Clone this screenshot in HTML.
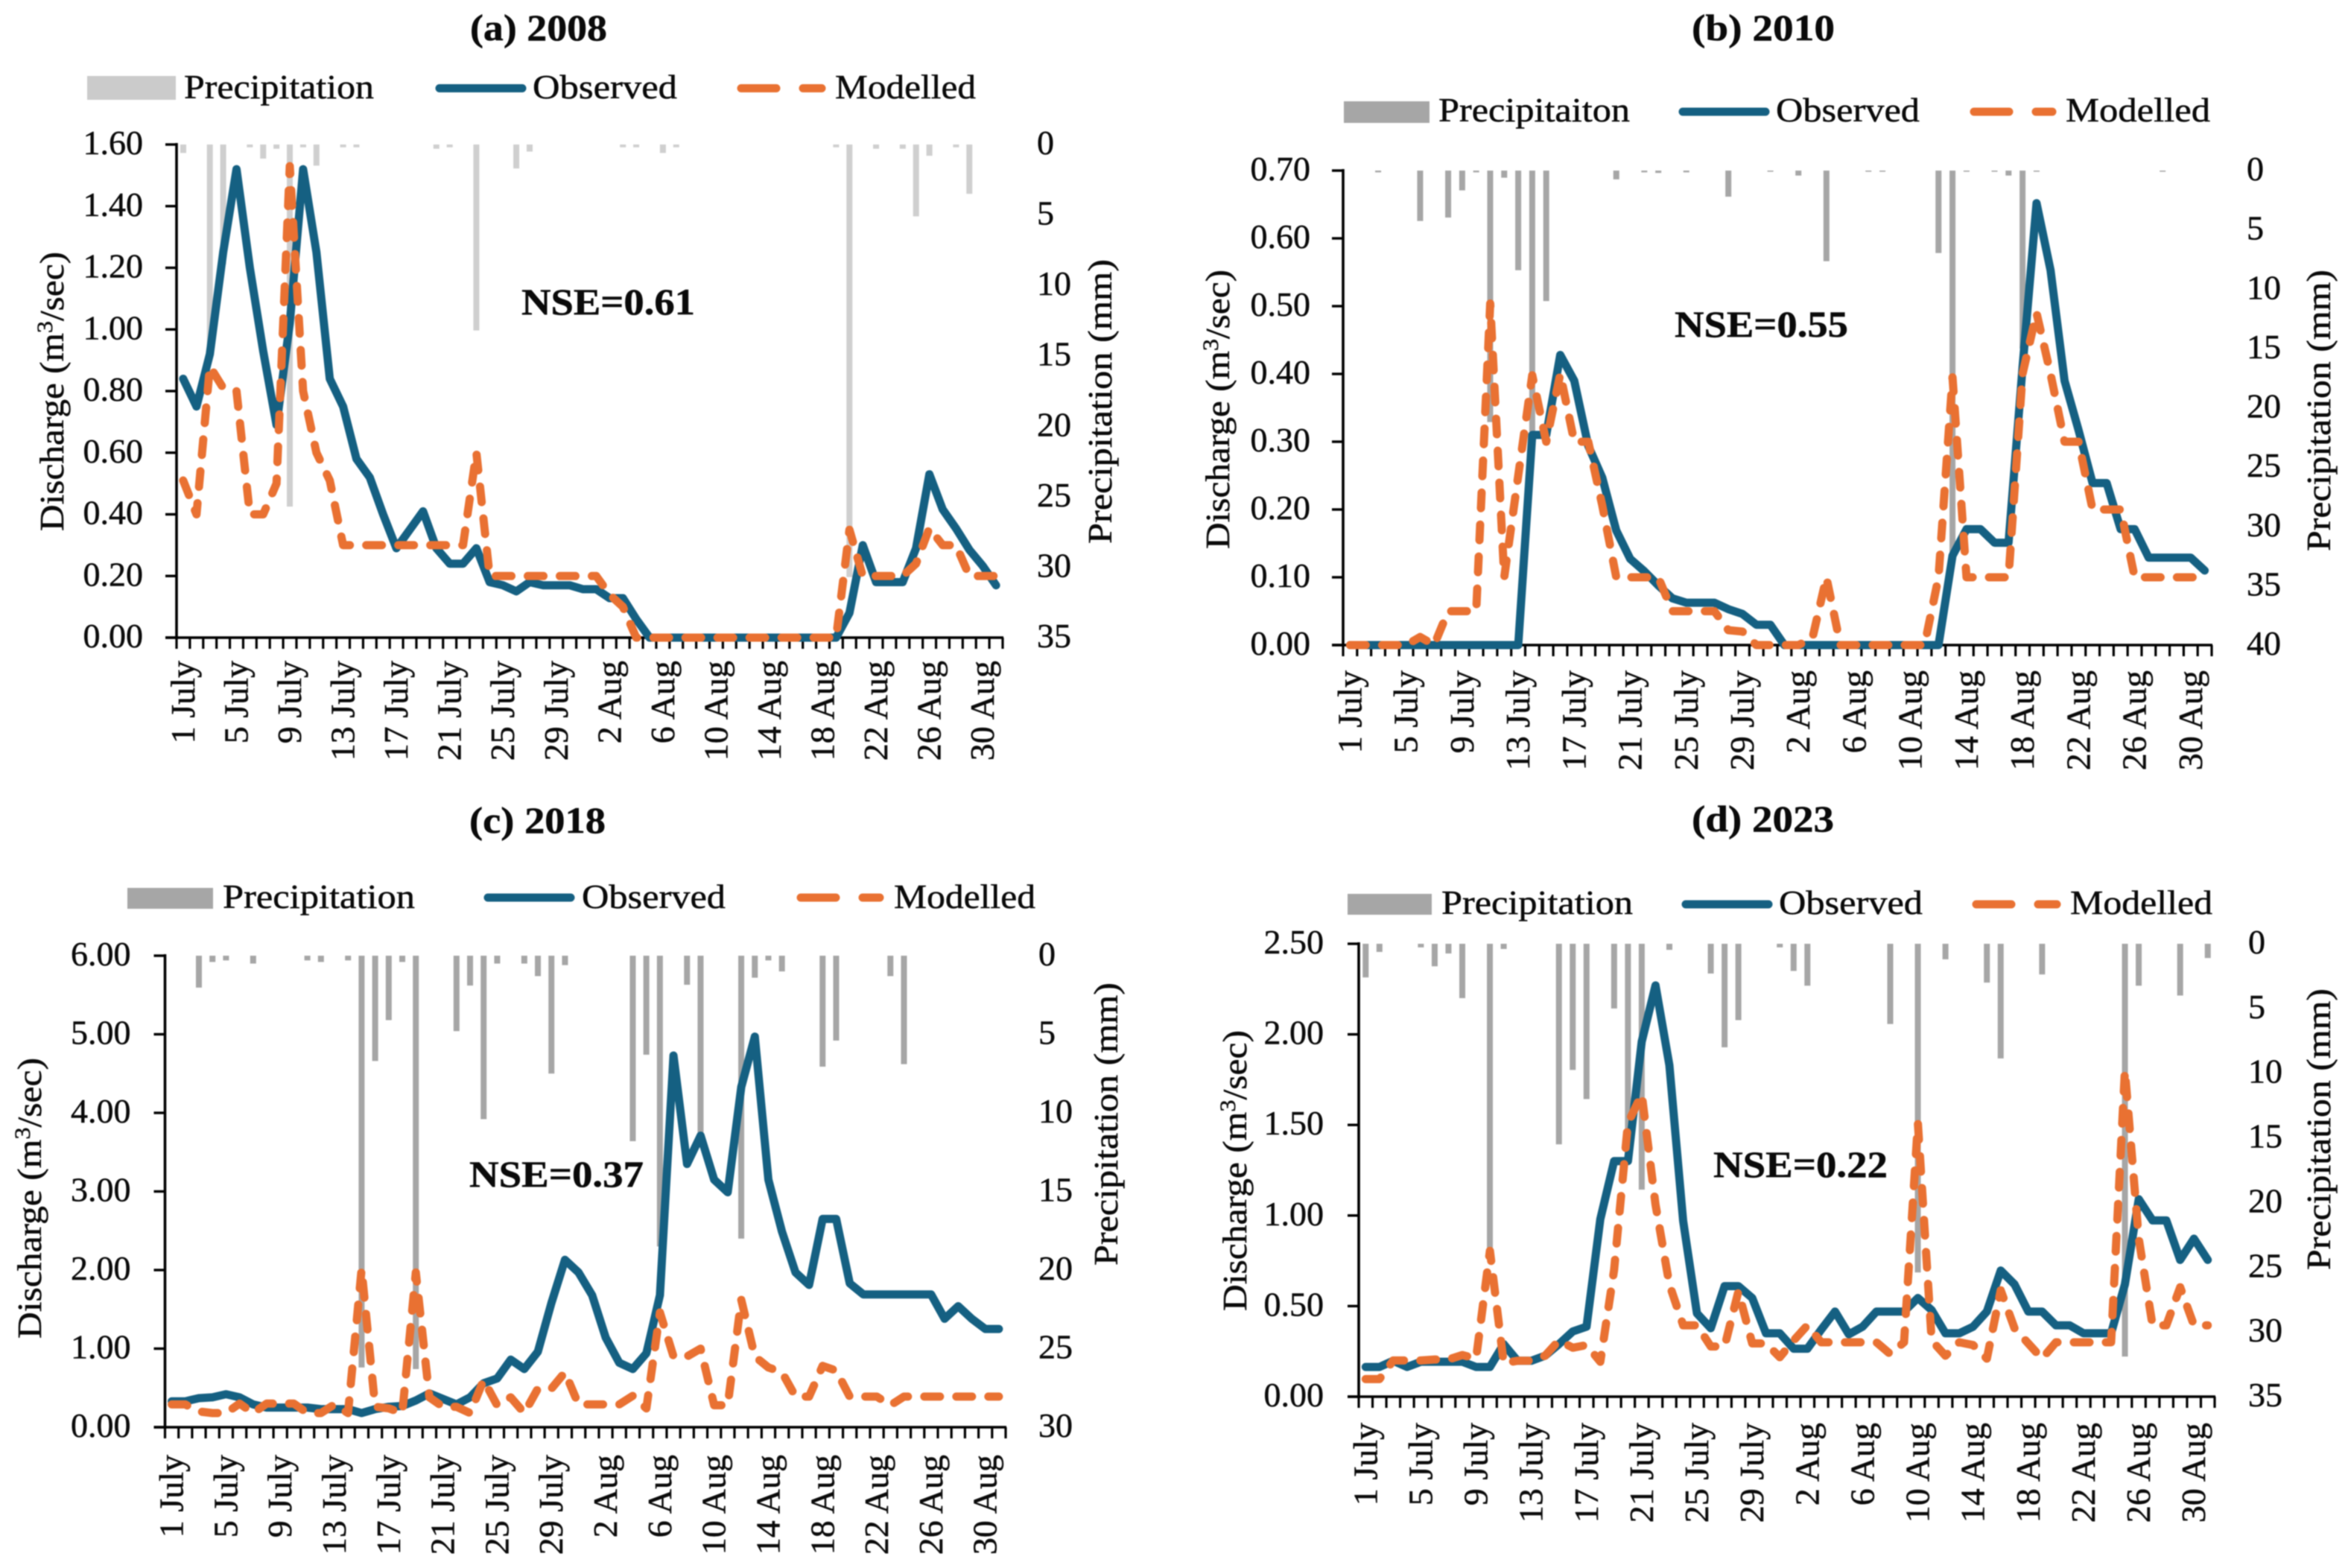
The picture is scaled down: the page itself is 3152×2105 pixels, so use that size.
<!DOCTYPE html>
<html lang="en">
<head>
<meta charset="utf-8">
<title>Observed and modelled discharge with precipitation</title>
<style>
html,body{margin:0;padding:0;background:#fff;width:3152px;height:2105px;overflow:hidden}
svg{display:block;filter:blur(0.7px)}
text{font-family:"Liberation Serif",serif;fill:#0a0a0a;stroke:#0a0a0a;stroke-width:.5px}
.t{font-size:50px;font-weight:bold}
.n{font-size:50px;font-weight:bold}
.l{font-size:46px}
</style>
</head>
<body>
<svg id="chart" xmlns="http://www.w3.org/2000/svg" width="3152" height="2105" viewBox="0 0 3152 2105">
  <rect width="3152" height="2105" fill="#fff"/>

  <g id="panel-a">
    <text class="t" x="631" y="54" textLength="184" lengthAdjust="spacingAndGlyphs">(a) 2008</text>
    <rect x="117" y="102" width="119" height="32" fill="#cbcbcb"/>
    <text class="l" x="247" y="132" textLength="255" lengthAdjust="spacingAndGlyphs">Precipitation</text>
    <line x1="590" y1="118.5" x2="701" y2="118.5" stroke="#156082" stroke-width="11" stroke-linecap="round"/>
    <text class="l" x="715" y="132" textLength="194" lengthAdjust="spacingAndGlyphs">Observed</text>
    <line x1="995" y1="118.5" x2="1103" y2="118.5" stroke="#E97132" stroke-width="11" stroke-linecap="round" stroke-dasharray="47 36"/>
    <text class="l" x="1121" y="132" textLength="189" lengthAdjust="spacingAndGlyphs">Modelled</text>
    <text class="n" x="700" y="422" textLength="233" lengthAdjust="spacingAndGlyphs">NSE=0.61</text>
    <text class="l" transform="translate(85 713) rotate(-90)" x="0" y="0" textLength="375" lengthAdjust="spacingAndGlyphs">Discharge (m<tspan dy="-15" font-size="30">3</tspan><tspan dy="15">/sec)</tspan></text>
    <text class="l" transform="translate(1492 730) rotate(-90)" x="0" y="0" textLength="382" lengthAdjust="spacingAndGlyphs">Precipitation (mm)</text>
  </g>

  <g id="panel-b">
    <text class="t" x="2271" y="54" textLength="192" lengthAdjust="spacingAndGlyphs">(b) 2010</text>
    <rect x="1804" y="136" width="115" height="29" fill="#a6a6a6"/>
    <text class="l" x="1931" y="163" textLength="257" lengthAdjust="spacingAndGlyphs">Precipitaiton</text>
    <line x1="2259" y1="150" x2="2370" y2="150" stroke="#156082" stroke-width="11" stroke-linecap="round"/>
    <text class="l" x="2384" y="163" textLength="193" lengthAdjust="spacingAndGlyphs">Observed</text>
    <line x1="2650" y1="150" x2="2755" y2="150" stroke="#E97132" stroke-width="11" stroke-linecap="round" stroke-dasharray="47 36"/>
    <text class="l" x="2773" y="163" textLength="194" lengthAdjust="spacingAndGlyphs">Modelled</text>
    <text class="n" x="2248" y="452" textLength="233" lengthAdjust="spacingAndGlyphs">NSE=0.55</text>
    <text class="l" transform="translate(1650 737) rotate(-90)" x="0" y="0" textLength="375" lengthAdjust="spacingAndGlyphs">Discharge (m<tspan dy="-15" font-size="30">3</tspan><tspan dy="15">/sec)</tspan></text>
    <text class="l" transform="translate(3128 740) rotate(-90)" x="0" y="0" textLength="378" lengthAdjust="spacingAndGlyphs">Precipitation (mm)</text>
  </g>

  <g id="panel-c">
    <text class="t" x="630" y="1118" textLength="183" lengthAdjust="spacingAndGlyphs">(c) 2018</text>
    <rect x="171" y="1192" width="115" height="28" fill="#a6a6a6"/>
    <text class="l" x="299" y="1219" textLength="258" lengthAdjust="spacingAndGlyphs">Precipitation</text>
    <line x1="655" y1="1205" x2="766" y2="1205" stroke="#156082" stroke-width="11" stroke-linecap="round"/>
    <text class="l" x="781" y="1219" textLength="193" lengthAdjust="spacingAndGlyphs">Observed</text>
    <line x1="1075" y1="1205" x2="1181" y2="1205" stroke="#E97132" stroke-width="11" stroke-linecap="round" stroke-dasharray="47 36"/>
    <text class="l" x="1200" y="1219" textLength="190" lengthAdjust="spacingAndGlyphs">Modelled</text>
    <text class="n" x="630" y="1593" textLength="234" lengthAdjust="spacingAndGlyphs">NSE=0.37</text>
    <text class="l" transform="translate(55 1797) rotate(-90)" x="0" y="0" textLength="377" lengthAdjust="spacingAndGlyphs">Discharge (m<tspan dy="-15" font-size="30">3</tspan><tspan dy="15">/sec)</tspan></text>
    <text class="l" transform="translate(1500 1699) rotate(-90)" x="0" y="0" textLength="380" lengthAdjust="spacingAndGlyphs">Precipitation (mm)</text>
  </g>

  <g id="panel-d">
    <text class="t" x="2271" y="1116" textLength="191" lengthAdjust="spacingAndGlyphs">(d) 2023</text>
    <rect x="1809" y="1200" width="113" height="28" fill="#a6a6a6"/>
    <text class="l" x="1935" y="1227" textLength="257" lengthAdjust="spacingAndGlyphs">Precipitation</text>
    <line x1="2263" y1="1214" x2="2374" y2="1214" stroke="#156082" stroke-width="11" stroke-linecap="round"/>
    <text class="l" x="2388" y="1227" textLength="193" lengthAdjust="spacingAndGlyphs">Observed</text>
    <line x1="2653" y1="1214" x2="2761" y2="1214" stroke="#E97132" stroke-width="11" stroke-linecap="round" stroke-dasharray="47 36"/>
    <text class="l" x="2779" y="1227" textLength="191" lengthAdjust="spacingAndGlyphs">Modelled</text>
    <text class="n" x="2300" y="1580" textLength="234" lengthAdjust="spacingAndGlyphs">NSE=0.22</text>
    <text class="l" transform="translate(1673 1760) rotate(-90)" x="0" y="0" textLength="377" lengthAdjust="spacingAndGlyphs">Discharge (m<tspan dy="-15" font-size="30">3</tspan><tspan dy="15">/sec)</tspan></text>
    <text class="l" transform="translate(3128 1705) rotate(-90)" x="0" y="0" textLength="378" lengthAdjust="spacingAndGlyphs">Precipitation (mm)</text>
  </g>
</svg>

<script>
const categories = [
  "1 July","2 July","3 July","4 July","5 July","6 July","7 July","8 July","9 July","10 July",
  "11 July","12 July","13 July","14 July","15 July","16 July","17 July","18 July","19 July","20 July",
  "21 July","22 July","23 July","24 July","25 July","26 July","27 July","28 July","29 July","30 July","31 July",
  "1 Aug","2 Aug","3 Aug","4 Aug","5 Aug","6 Aug","7 Aug","8 Aug","9 Aug","10 Aug",
  "11 Aug","12 Aug","13 Aug","14 Aug","15 Aug","16 Aug","17 Aug","18 Aug","19 Aug","20 Aug",
  "21 Aug","22 Aug","23 Aug","24 Aug","25 Aug","26 Aug","27 Aug","28 Aug","29 Aug","30 Aug","31 Aug"
];

const dischargeTicksA = ["0.00","0.20","0.40","0.60","0.80","1.00","1.20","1.40","1.60"];
const dischargeTicksB = ["0.00","0.10","0.20","0.30","0.40","0.50","0.60","0.70"];
const dischargeTicksC = ["0.00","1.00","2.00","3.00","4.00","5.00","6.00"];
const dischargeTicksD = ["0.00","0.50","1.00","1.50","2.00","2.50"];
const precipTicksA = ["0","5","10","15","20","25","30","35"];
const precipTicksB = ["0","5","10","15","20","25","30","35","40"];
const precipTicksC = ["0","5","10","15","20","25","30"];
const precipTicksD = ["0","5","10","15","20","25","30","35"];

const observedA = [.84,.75,.92,1.25,1.52,1.20,.93,.69,1.02,1.52,
  1.25,.84,.75,.58,.52,.40,.29,.35,.41,.29,
  .24,.24,.29,.18,.17,.15,.18,.17,.17,.17,
  .157,.157,.128,.128,.06,0,0,0,0,0,
  0,0,0,0,0,0,0,0,0,0,
  .08,.30,.18,.18,.18,.29,.53,.416,.354,.285,.233,.17];
const modelledA = [.51,.40,.88,.81,.80,.40,.40,.50,1.53,.80,
  .60,.51,.30,.30,.30,.30,.30,.30,.30,.30,
  .30,.30,.60,.20,.20,.20,.20,.20,.20,.20,
  .20,.20,.14,.10,0,0,0,0,0,0,
  0,0,0,0,0,0,0,0,0,0,
  .35,.20,.20,.20,.20,.24,.355,.30,.30,.20,.20,.20];
const precipA = [.6,0,15.1,8.5,0,.2,1,.3,25.7,.2,
  1.5,0,.2,.2,0,0,0,0,0,.3,
  .2,0,13.2,0,0,1.7,.5,0,0,0,
  0,0,0,.2,.2,0,.6,.2,0,0,
  0,0,0,0,0,0,0,0,0,.2,
  30.7,0,.3,0,.3,5.1,.8,0,.2,3.5,0,0];

const observedB = [0,0,0,0,0,0,0,0,0,0,
  0,0,0,.31,.31,.428,.39,.294,.247,.169,
  .127,.109,.088,.069,.0625,.0625,.0625,.053,.046,.03,
  .03,0,0,0,0,0,0,0,0,0,
  0,0,0,.132,.171,.171,.151,.151,.41,.652,
  .553,.39,.317,.239,.239,.171,.171,.129,.129,.129,.129,.11];
const modelledB = [0,0,0,0,0,.012,0,.05,.05,.05,
  .504,.10,.25,.398,.30,.40,.30,.30,.206,.10,
  .10,.10,.10,.05,.05,.05,.05,.022,.02,0,
  0,0,0,.01,.10,0,0,0,0,0,
  0,0,.10,.395,.10,.10,.10,.10,.40,.49,
  .40,.30,.30,.20,.20,.20,.10,.10,.10,.10,.10,.10];
const precipB = [0,0,.15,0,0,4.25,0,3.96,1.67,.15,
  21.2,.6,8.4,22,11,0,0,0,0,.74,
  0,.15,.2,0,.15,0,0,2.2,0,0,
  .1,0,.42,0,7.64,0,0,.1,.1,0,
  0,0,6.95,32.5,.1,0,.1,.42,15,.1,
  0,0,0,0,0,0,0,0,.1,0,0,0];

const observedC = [.33,.33,.37,.38,.42,.38,.29,.25,.25,.25,
  .25,.23,.23,.23,.18,.23,.26,.27,.34,.43,
  .36,.29,.38,.56,.62,.86,.74,.96,1.58,2.13,
  1.97,1.68,1.14,.82,.74,.94,1.68,4.73,3.35,3.71,
  3.15,2.99,4.33,4.97,3.15,2.49,1.97,1.81,2.65,2.65,
  1.83,1.69,1.69,1.69,1.69,1.69,1.69,1.38,1.54,1.38,1.25,1.25];
const modelledC = [.29,.29,.20,.18,.18,.30,.18,.30,.30,.30,
  .18,.18,.29,.18,2.01,.26,.24,.18,1.97,.38,
  .26,.26,.18,.60,.28,.38,.18,.49,.49,.70,
  .29,.29,.29,.29,.40,.24,1.46,.90,.90,1.0,
  .28,.28,1.62,.90,.76,.70,.39,.39,.78,.72,
  .39,.39,.39,.28,.39,.39,.39,.39,.39,.39,.39,.39];
const precipC = [0,0,2.03,.4,.3,0,.5,0,0,0,
  .3,.4,0,.3,26.2,6.7,4.1,.4,26.3,0,
  0,4.8,1.9,10.4,.5,0,.5,1.3,7.5,.6,
  0,0,0,0,11.8,6.3,18.5,0,1.85,12.2,
  0,0,18,1.4,.3,1,0,0,7.06,5.4,
  0,0,0,1.3,6.9,0,0,0,0,0,0,0];

const observedD = [.164,.164,.198,.164,.193,.193,.193,.193,.164,.164,
  .29,.198,.198,.226,.29,.36,.386,.98,1.30,1.30,
  1.96,2.27,1.83,.97,.46,.378,.61,.61,.545,.35,
  .35,.265,.265,.37,.47,.344,.386,.47,.47,.47,
  .545,.478,.35,.35,.386,.47,.696,.62,.47,.47,
  .394,.394,.35,.35,.35,.62,1.09,.973,.973,.755,.872,.755];
const modelledD = [.097,.097,.20,.20,.20,.205,.205,.23,.21,.805,
  .185,.198,.198,.226,.31,.27,.285,.193,.70,1.51,
  1.67,1.06,.62,.394,.394,.277,.277,.58,.294,.294,
  .218,.31,.394,.30,.30,.30,.30,.30,.235,.30,
  1.51,.31,.226,.30,.285,.21,.587,.378,.294,.21,
  .30,.30,.30,.30,.30,1.80,.873,.394,.394,.604,.394,.394];
const precipD = [2.6,.63,0,0,.28,1.74,.75,4.2,0,24,
  .4,0,0,0,15.5,9.75,12,0,5,14.5,
  19,0,.47,0,0,2.3,8,5.9,0,0,
  .28,2.1,3.24,0,0,0,0,0,6.2,0,
  25.4,0,1.2,0,0,3,8.86,0,0,2.37,
  0,0,0,0,0,31.9,3.24,0,0,4,0,1.1];

const panels = [
  {id:"panel-a", left:237, right:1346, top:194, bottom:856, barFill:"#cfcfcf", labelGap:31, yLabelGap:45, rightLabelX:1392,
   obs:observedA, mod:modelledA, rain:precipA, yTicks:dischargeTicksA, rTicks:precipTicksA},
  {id:"panel-b", left:1803, right:2969, top:229, bottom:866, barFill:"#a6a6a6", labelGap:34, yLabelGap:44, rightLabelX:3016,
   obs:observedB, mod:modelledB, rain:precipB, yTicks:dischargeTicksB, rTicks:precipTicksB},
  {id:"panel-c", left:221.5, right:1350, top:1283, bottom:1916, barFill:"#a6a6a6", labelGap:37, yLabelGap:46, rightLabelX:1394,
   obs:observedC, mod:modelledC, rain:precipC, yTicks:dischargeTicksC, rTicks:precipTicksC},
  {id:"panel-d", left:1824, right:2973, top:1267, bottom:1875, barFill:"#a6a6a6", labelGap:35, yLabelGap:47, rightLabelX:3018,
   obs:observedD, mod:modelledD, rain:precipD, yTicks:dischargeTicksD, rTicks:precipTicksD}
];

const NS = "http://www.w3.org/2000/svg";
function make(tag, parent) {
  const el = document.createElementNS(NS, tag);
  parent.appendChild(el);
  return el;
}

panels.forEach(function (p) {
  const root = document.getElementById(p.id);
  const dayW = (p.right - p.left) / categories.length;
  const xBand = function (i) { return p.left + dayW * i; };
  const xMid = function (i) { return p.left + dayW * (i + 0.5); };
  const yMax = parseFloat(p.yTicks[p.yTicks.length - 1]);
  const rMax = parseFloat(p.rTicks[p.rTicks.length - 1]);
  const yLeft = function (v) { return p.bottom - (v / yMax) * (p.bottom - p.top); };
  const yRight = function (v) { return p.top + (v / rMax) * (p.bottom - p.top); };

  p.rain.forEach(function (v, i) {
    if (!v) return;
    const bar = make("rect", root);
    
    
    bar.setAttribute("x", xMid(i) - 4);
    bar.setAttribute("y", p.top);
    bar.setAttribute("width", 8);
    bar.setAttribute("height", yRight(v) - p.top);
    bar.setAttribute("fill", p.barFill);
  });

  const yAxis = make("line", root);
  
  
  yAxis.setAttribute("x1", p.left);
  yAxis.setAttribute("x2", p.left);
  yAxis.setAttribute("y1", p.top - 2);
  yAxis.setAttribute("y2", p.bottom + 2);
  yAxis.setAttribute("stroke", "#000");
  yAxis.setAttribute("stroke-width", 3.6);

  const xAxis = make("line", root);
  
  
  xAxis.setAttribute("x1", p.left - 15);
  xAxis.setAttribute("x2", p.right + 1);
  xAxis.setAttribute("y1", p.bottom);
  xAxis.setAttribute("y2", p.bottom);
  xAxis.setAttribute("stroke", "#000");
  xAxis.setAttribute("stroke-width", 3.6);

  p.yTicks.forEach(function (label) {
    const v = parseFloat(label);
    const tick = make("line", root);
    
    
    tick.setAttribute("x1", p.left - 15);
    tick.setAttribute("x2", p.left);
    tick.setAttribute("y1", yLeft(v));
    tick.setAttribute("y2", yLeft(v));
    tick.setAttribute("stroke", "#000");
    tick.setAttribute("stroke-width", 3.4);
    const t = make("text", root);
    
    
    t.setAttribute("class", "l");
    t.setAttribute("x", p.left - p.yLabelGap);
    t.setAttribute("y", yLeft(v) + 13);
    t.setAttribute("text-anchor", "end");
    t.textContent = label;
  });

  p.rTicks.forEach(function (label) {
    const v = parseFloat(label);
    const t = make("text", root);
    
    
    t.setAttribute("class", "l");
    t.setAttribute("x", p.rightLabelX);
    t.setAttribute("y", yRight(v) + 13);
    t.textContent = label;
  });

  for (let i = 0; i <= categories.length; i++) {
    const tick = make("line", root);
    
    
    tick.setAttribute("x1", xBand(i));
    tick.setAttribute("x2", xBand(i));
    tick.setAttribute("y1", p.bottom);
    tick.setAttribute("y2", p.bottom + 15);
    tick.setAttribute("stroke", "#000");
    tick.setAttribute("stroke-width", 3.2);
  }

  categories.forEach(function (label, i) {
    if (i % 4 !== 0) return;
    const cx = xMid(i) + 15;
    const cy = p.bottom + p.labelGap;
    const t = make("text", root);
    
    
    t.setAttribute("class", "l");
    t.setAttribute("text-anchor", "end");
    t.setAttribute("transform", "translate(" + cx + " " + cy + ") rotate(-90)");
    t.textContent = label;
  });

  const toPath = function (values) {
    return values.map(function (v, i) {
      return (i ? "L" : "M") + xMid(i).toFixed(1) + " " + yLeft(v).toFixed(1);
    }).join(" ");
  };

  const obsLine = make("path", root);
  
  
  obsLine.setAttribute("d", toPath(p.obs));
  obsLine.setAttribute("fill", "none");
  obsLine.setAttribute("stroke", "#156082");
  obsLine.setAttribute("stroke-width", 11);
  obsLine.setAttribute("stroke-linejoin", "round");
  obsLine.setAttribute("stroke-linecap", "round");

  const modLine = make("path", root);
  
  
  modLine.setAttribute("d", toPath(p.mod));
  modLine.setAttribute("fill", "none");
  modLine.setAttribute("stroke", "#E97132");
  modLine.setAttribute("stroke-width", 11);
  modLine.setAttribute("stroke-linejoin", "round");
  modLine.setAttribute("stroke-linecap", "round");
  modLine.setAttribute("stroke-dasharray", "21 22");
});
</script>
</body>
</html>
